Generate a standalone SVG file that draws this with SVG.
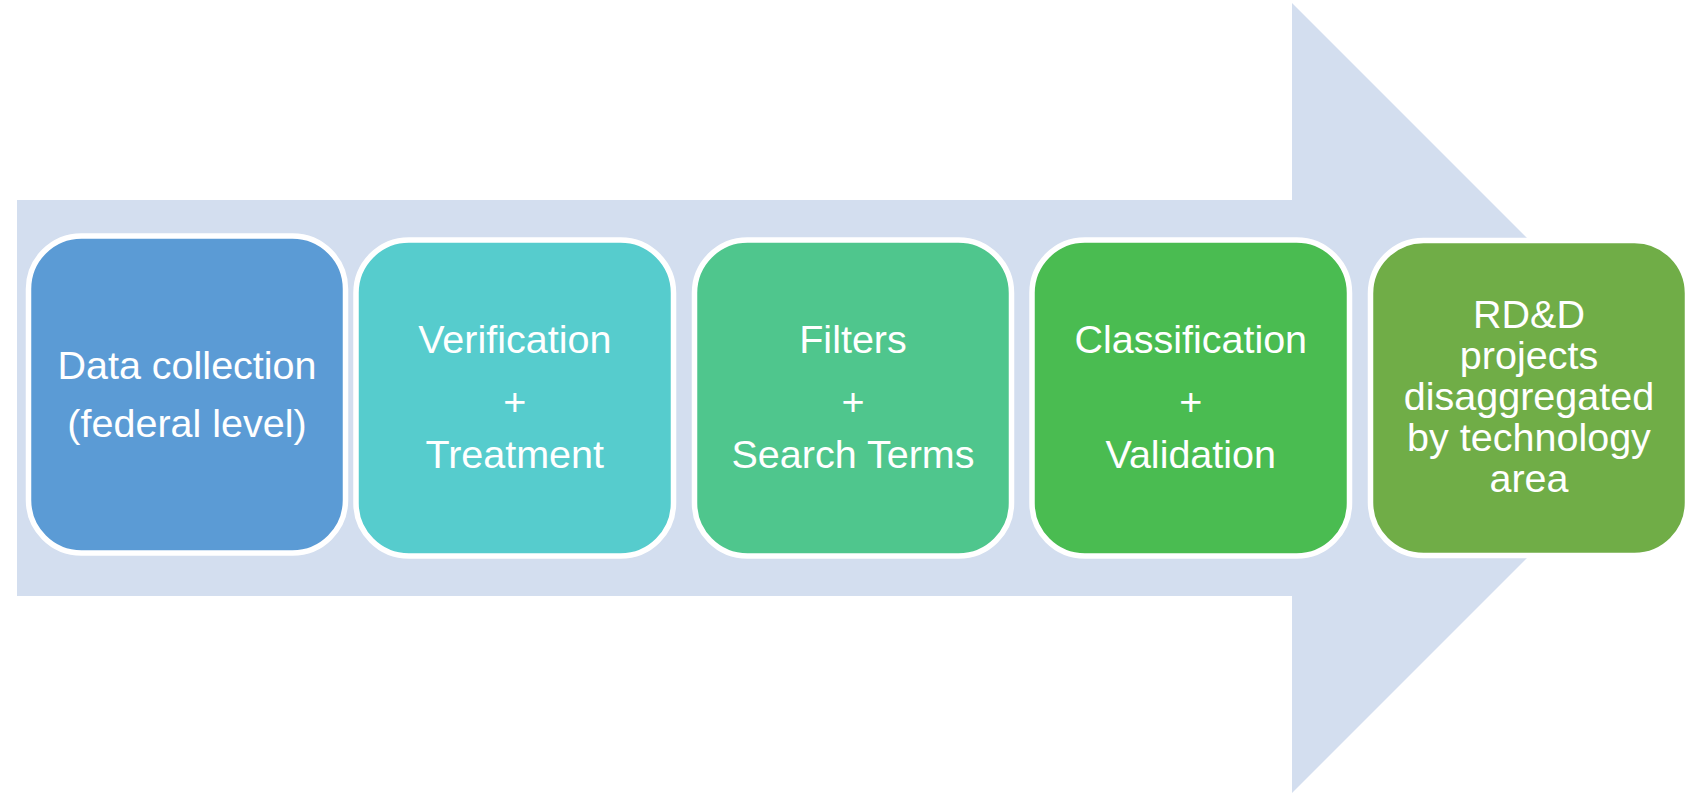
<svg xmlns="http://www.w3.org/2000/svg" width="1691" height="793" viewBox="0 0 1691 793">
<style>
.box{stroke:#FFFFFF;stroke-width:5.5}
.t{font-family:"Liberation Sans",Arial,sans-serif;font-size:39.5px;fill:#FFFFFF;text-anchor:middle}
</style>
<rect x="0" y="0" width="1691" height="793" fill="#FFFFFF"/>
<g id="connectors">
<path id="arrow" d="M17,200 L1292,200 L1292,3 L1687,398 L1292,793 L1292,596 L17,596 Z" fill="#D3DEEF"/>
</g>
<g id="node1">
<rect class="box" x="28.5" y="236" width="317" height="317" rx="53" fill="#5B9BD5"/>
<text class="t" x="187" y="379">Data collection</text>
<text class="t" x="187" y="437">(federal level)</text>
</g>
<g id="node2">
<rect class="box" x="356" y="240" width="317.5" height="316" rx="53" fill="#56CCCD"/>
<text class="t" x="514.75" y="353">Verification</text>
<text class="t" x="514.75" y="415">+</text>
<text class="t" x="514.75" y="468">Treatment</text>
</g>
<g id="node3">
<rect class="box" x="694.5" y="240" width="317" height="316" rx="53" fill="#4FC68D"/>
<text class="t" x="853" y="353">Filters</text>
<text class="t" x="853" y="415">+</text>
<text class="t" x="853" y="468">Search Terms</text>
</g>
<g id="node4">
<rect class="box" x="1032" y="240" width="317.5" height="316" rx="53" fill="#4ABC51"/>
<text class="t" x="1190.75" y="353">Classification</text>
<text class="t" x="1190.75" y="415">+</text>
<text class="t" x="1190.75" y="468">Validation</text>
</g>
<g id="node5">
<rect class="box" x="1370.5" y="240.5" width="317" height="315" rx="53" fill="#70AD47"/>
<text class="t" x="1529" y="328">RD&amp;D</text>
<text class="t" x="1529" y="369">projects</text>
<text class="t" x="1529" y="410">disaggregated</text>
<text class="t" x="1529" y="451">by technology</text>
<text class="t" x="1529" y="492">area</text>
</g>
</svg>
